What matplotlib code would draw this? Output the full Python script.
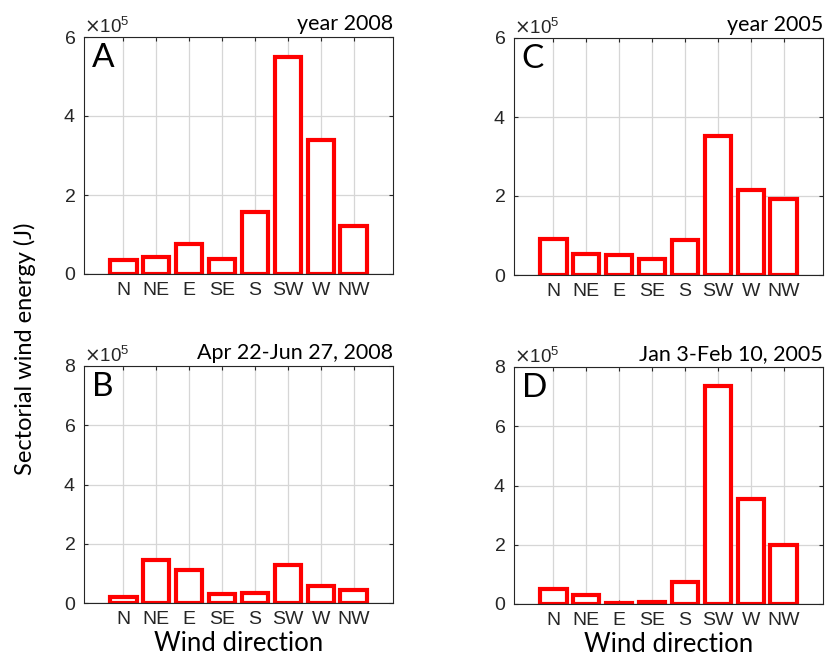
import numpy as np
import matplotlib
matplotlib.use('Agg')
import matplotlib.pyplot as plt
from matplotlib.ticker import ScalarFormatter

# wind sectors
directions = ['N', 'NE', 'E', 'SE', 'S', 'SW', 'W', 'NW']

# sectorial wind energy (J)
energy_A = np.array([0.35, 0.42, 0.76, 0.39, 1.57, 5.50, 3.38, 1.21]) * 1e5   # year 2008
energy_B = np.array([0.20, 1.45, 1.11, 0.30, 0.34, 1.28, 0.56, 0.44]) * 1e5   # Apr 22-Jun 27, 2008
energy_C = np.array([0.91, 0.53, 0.51, 0.40, 0.89, 3.53, 2.14, 1.92]) * 1e5   # year 2005
energy_D = np.array([0.49, 0.31, 0.03, 0.08, 0.73, 7.37, 3.54, 2.00]) * 1e5   # Jan 3-Feb 10, 2005

titles = ['year 2008', 'Apr 22-Jun 27, 2008', 'year 2005', 'Jan 3-Feb 10, 2005']
letters = ['A', 'B', 'C', 'D']
ymax = [6e5, 8e5, 6e5, 8e5]

TICK_FONT = 'Liberation Sans'
TEXT_FONT = 'Lato'
AX_COLOR = '#262626'

W, H = 831, 670
fig = plt.figure(figsize=(W / 100, H / 100), dpi=100)

# axes boxes in pixels: left, top, width, height
boxes = [(84, 37, 309, 237), (84, 366, 309, 237),
         (514, 38, 309, 237), (514, 367, 309, 237)]
data = [energy_A, energy_B, energy_C, energy_D]

x = np.arange(len(directions))
for i in range(4):
    l, t, w, h = boxes[i]
    ax = fig.add_axes([l / W, 1 - (t + h) / H, w / W, h / H])
    ax.bar(x, data[i], width=0.8, facecolor='white', edgecolor='red',
           linewidth=3.0, zorder=2)
    ax.axhline(0, color=AX_COLOR, linewidth=0.8, zorder=3)
    ax.set_xlim(-1.2, 8.2)
    ax.set_ylim(0, ymax[i])
    ax.set_yticks(np.arange(0, ymax[i] + 1, 2e5))
    ax.set_xticks(x)
    ax.set_xticklabels(directions)
    fmt = ScalarFormatter(useMathText=True)
    fmt.set_powerlimits((0, 0))
    ax.yaxis.set_major_formatter(fmt)
    off = ax.yaxis.get_offset_text()
    off.set_fontsize(13.5)
    off.set_color('#555555')
    off.set_family(TICK_FONT)
    ax.grid(True, color='#d6d6d6', linewidth=0.9, zorder=0)
    ax.set_axisbelow(True)
    ax.tick_params(direction='in', top=True, right=True, length=3,
                   color=AX_COLOR, labelcolor=AX_COLOR, labelsize=14, pad=6)
    for lab in ax.get_xticklabels() + ax.get_yticklabels():
        lab.set_family(TICK_FONT)
    for sp in ax.spines.values():
        sp.set_color(AX_COLOR)
        sp.set_linewidth(0.8)
    ax.set_title(titles[i], loc='right', fontsize=15.5, family=TEXT_FONT, pad=5)
    ax.text(0.025, 0.975, letters[i], transform=ax.transAxes, ha='left', va='top',
            fontsize=24, family=TEXT_FONT)
    if i in (1, 3):
        ax.set_xlabel('Wind direction', fontsize=18.5, family=TEXT_FONT, labelpad=2)

fig.text(0.03, 0.48, 'Sectorial wind energy (J)', rotation=90, ha='center', va='center',
         fontsize=17, family=TEXT_FONT)

fig.savefig('out.png', dpi=100)
